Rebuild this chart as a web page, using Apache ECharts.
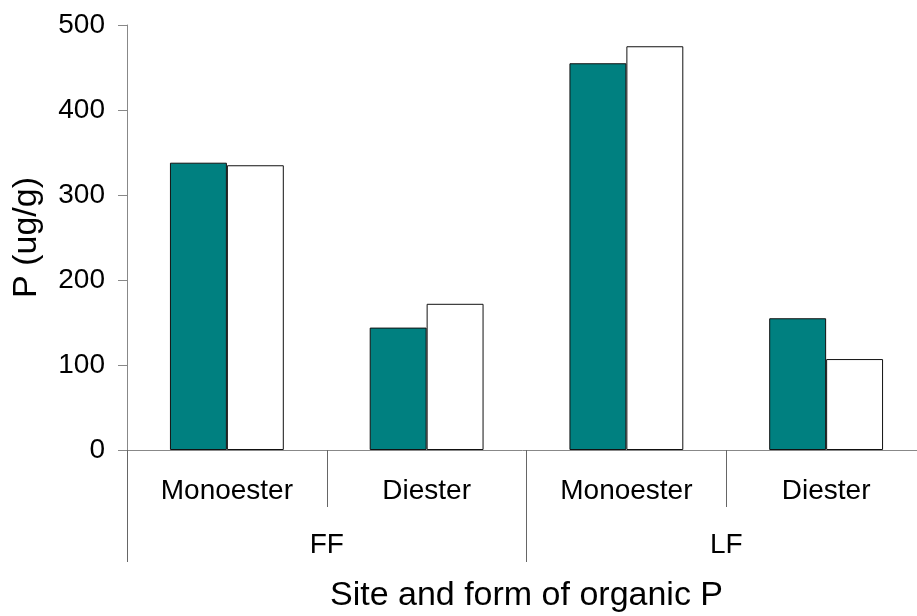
<!DOCTYPE html>
<html>
<head>
<meta charset="utf-8">
<script src="https://cdn.jsdelivr.net/npm/echarts@6/dist/echarts.min.js"></script>
<style>
  html, body { margin: 0; padding: 0; background: #fff; }
  #main { width: 917px; height: 616px; }
</style>
</head>
<body>
<div id="main"></div>
<script>
// 数据
var forms = ['Monoester', 'Diester', 'Monoester', 'Diester'];
var sites = ['FF', 'LF'];
var yTicks = [0, 100, 200, 300, 400, 500];
var seriesA = [338, 144, 455, 155];   // teal bars
var seriesB = [335, 172, 475, 107];   // white bars

var myChart = echarts.init(document.getElementById('main'));
var font = 'Liberation Sans, Arial, sans-serif';
var lineCol = '#666';

var option = {
  backgroundColor: '#fff',
  animation: false,
  // 第四组延伸到画布外，所以不限制外边界
  grid: { left: 127, top: 25, width: 799, height: 425, outerBoundsMode: 'none' },
  xAxis: [{
    type: 'category',
    data: forms,
    position: 'bottom',
    axisLine: { show: true, lineStyle: { color: '#888', width: 1 } },
    axisTick: { show: true, interval: 0, length: 57, lineStyle: { color: lineCol } },
    axisLabel: { interval: 0, margin: 27, fontSize: 28, color: '#000', fontFamily: font },
    name: 'Site and form of organic P',
    nameLocation: 'middle',
    nameGap: 129,
    nameTextStyle: { fontSize: 34, color: '#000', fontFamily: font }
  }, {
    type: 'category',
    data: sites,
    position: 'bottom',
    axisLine: { show: false },
    axisTick: { show: true, interval: 0, length: 112, lineStyle: { color: lineCol } },
    axisLabel: { interval: 0, margin: 81, fontSize: 28, color: '#000', fontFamily: font }
  }],
  yAxis: {
    type: 'value',
    min: yTicks[0],
    max: yTicks[yTicks.length - 1],
    interval: 100,
    splitLine: { show: false },
    axisLine: { show: true, lineStyle: { color: '#888', width: 1 } },
    axisTick: { show: true, length: 9, lineStyle: { color: '#888' } },
    axisLabel: { margin: 22, fontSize: 28, color: '#000', fontFamily: font },
    name: 'P (ug/g)',
    nameLocation: 'middle',
    nameGap: 83,
    nameTextStyle: { fontSize: 34, color: '#000', fontFamily: font }
  },
  series: [{
    type: 'bar',
    xAxisIndex: 0,
    data: seriesA,
    barGap: '0%',
    barCategoryGap: '43%',
    itemStyle: { color: '#008080', borderColor: '#111', borderWidth: 1 }
  }, {
    type: 'bar',
    xAxisIndex: 0,
    data: seriesB,
    barGap: '0%',
    barCategoryGap: '43%',
    itemStyle: { color: '#fff', borderColor: '#111', borderWidth: 1 }
  }]
};

myChart.setOption(option, true);
</script>
</body>
</html>
